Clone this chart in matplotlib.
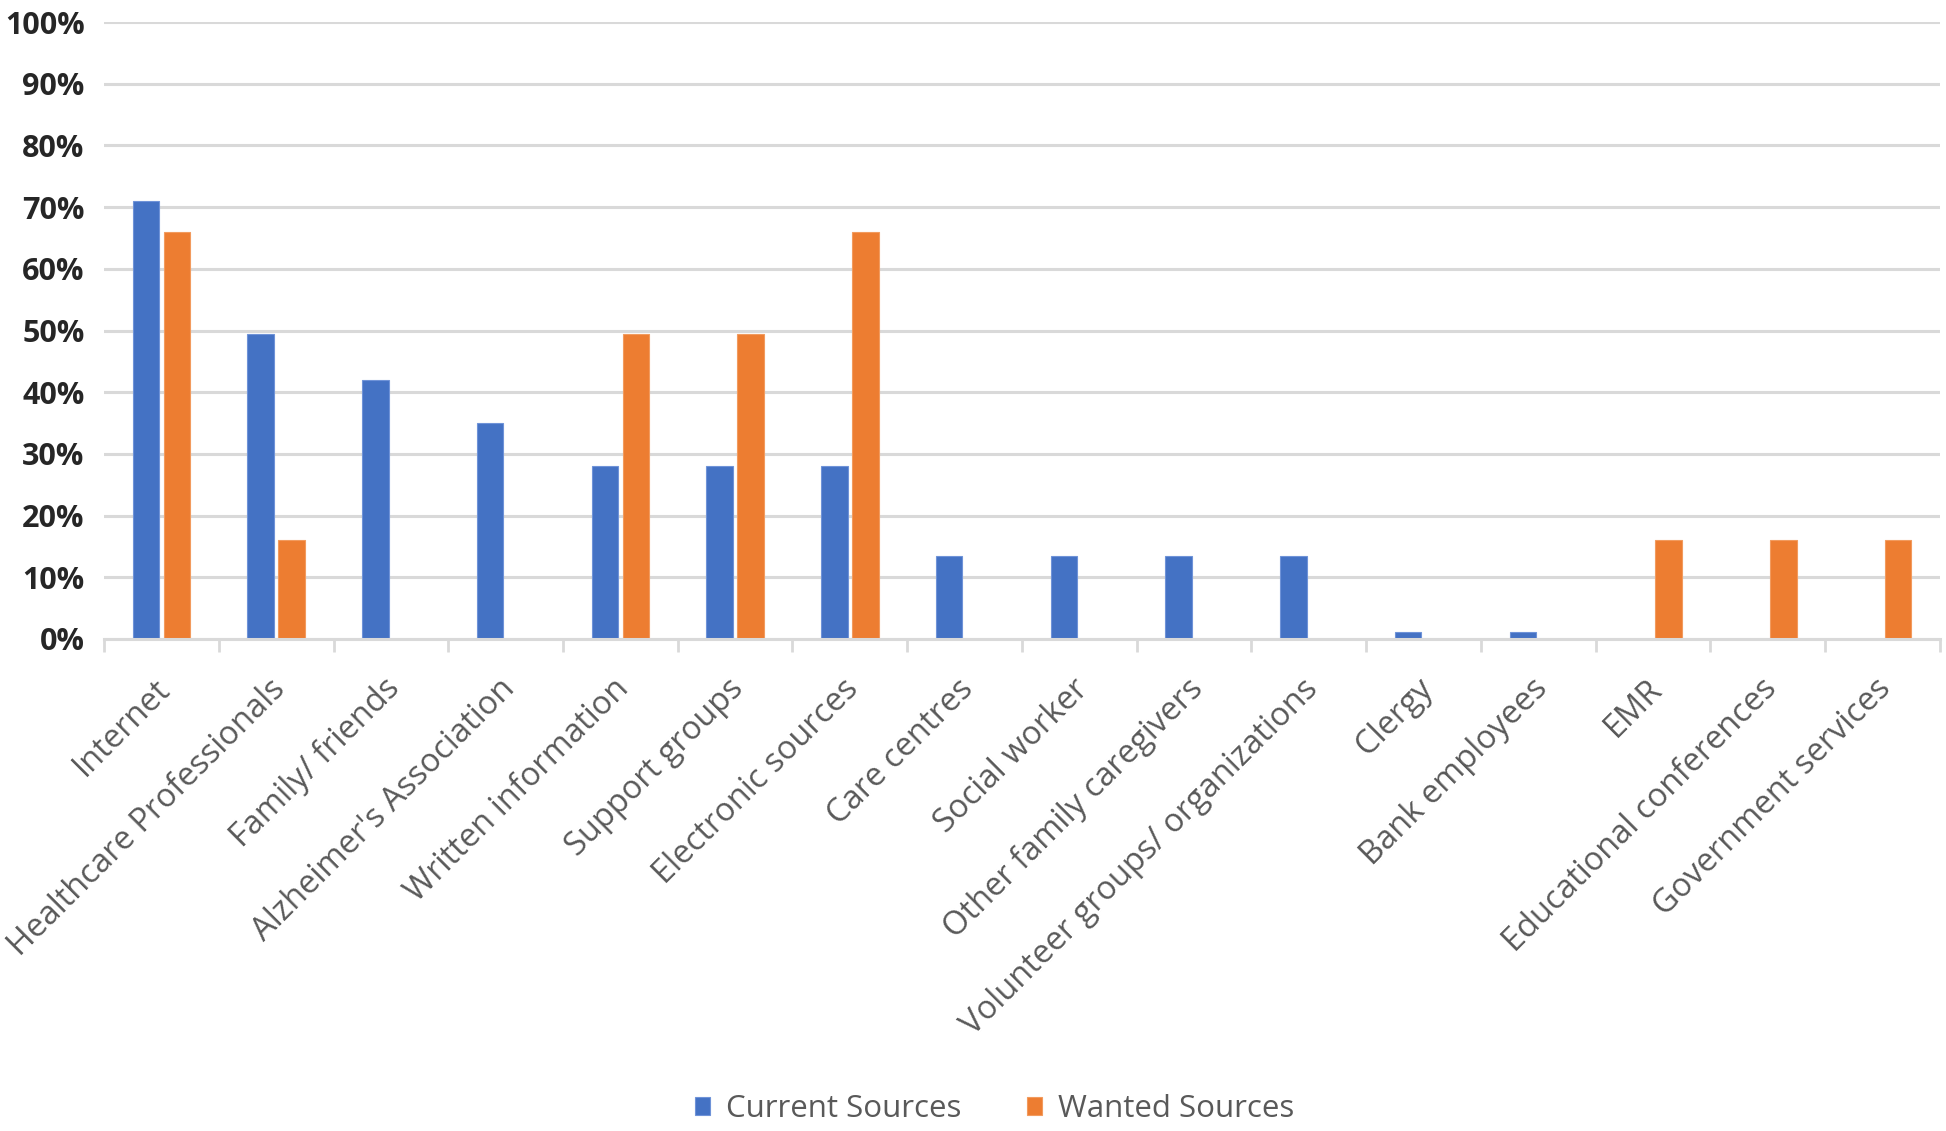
import matplotlib
matplotlib.use("Agg")
import matplotlib.pyplot as plt
import matplotlib.transforms as mtransforms
import numpy as np
from matplotlib.ticker import FuncFormatter, FixedLocator

categories = ["Internet", "Healthcare Professionals", "Family/ friends", "Alzheimer's Association",
              "Written information", "Support groups", "Electronic sources", "Care centres",
              "Social worker", "Other family caregivers", "Volunteer groups/ organizations",
              "Clergy", "Bank employees", "EMR", "Educational conferences", "Government services"]
current = [0.71, 0.495, 0.42, 0.35, 0.28, 0.28, 0.28, 0.135, 0.135, 0.135, 0.135, 0.012, 0.012, 0, 0, 0]
wanted = [0.66, 0.16, 0, 0, 0.495, 0.495, 0.66, 0, 0, 0, 0, 0, 0, 0.16, 0.16, 0.16]
series_names = ["Current Sources", "Wanted Sources"]
yticks = [0, 0.1, 0.2, 0.3, 0.4, 0.5, 0.6, 0.7, 0.8, 0.9, 1.0]

BLUE = "#4472C4"
ORANGE = "#ED7D31"
GRID = "#D9D9D9"

plt.rcParams['font.family'] = ['Open Sans', 'DejaVu Sans']

fig = plt.figure(figsize=(19.46, 11.31), dpi=100)
ax = fig.add_axes([104/1946, 1-639/1131, (1940-104)/1946, (639-22)/1131])

x = np.arange(len(categories))
w = 0.23
off = 0.135
ax.bar(x - off, current, width=w, color=BLUE, edgecolor="#6F93D8", linewidth=0.8, label=series_names[0], zorder=3)
ax.bar(x + off, wanted, width=w, color=ORANGE, edgecolor="#F29B5E", linewidth=0.8, label=series_names[1], zorder=3)

ax.set_xlim(-0.5, len(categories) - 0.5)
ax.set_ylim(0, 1.0)
ax.set_yticks(yticks)
ax.yaxis.set_major_formatter(FuncFormatter(lambda v, p: f"{int(round(v*100))}%"))
ax.grid(axis='y', color=GRID, linewidth=2.2, zorder=0)
ax.set_axisbelow(True)

for s in ['top', 'right', 'left']:
    ax.spines[s].set_visible(False)
ax.spines['bottom'].set_color(GRID)
ax.spines['bottom'].set_linewidth(2.2)
ax.spines['bottom'].set_zorder(4)

ax.tick_params(axis='y', length=0, pad=14, labelsize=22, labelcolor="#262626")
for lab in ax.get_yticklabels():
    lab.set_fontweight('bold')

# boundary tick marks
ax.xaxis.set_major_locator(FixedLocator(np.arange(-0.5, len(categories), 1.0)))
ax.xaxis.set_major_formatter(FuncFormatter(lambda v, p: ""))
ax.tick_params(axis='x', which='major', length=9, width=2, color=GRID, direction='out')

# category labels, rotated 45 degrees
offset = mtransforms.ScaledTranslation(4/100, -45/100, fig.dpi_scale_trans)
trans = ax.get_xaxis_transform() + offset
for xi, name in zip(x, categories):
    ax.text(xi, 0, name, transform=trans, rotation=45, rotation_mode='anchor',
            ha='right', va='center', fontsize=23.5, color="#595959")

fig.legend(loc='lower center', bbox_to_anchor=(0.511, 0.006), ncol=2, frameon=False,
           fontsize=22.5, handlelength=0.5, handleheight=0.5, handletextpad=0.5,
           columnspacing=2.1, labelcolor="#595959", borderaxespad=0, borderpad=0)

fig.savefig("out.png", dpi=100, facecolor="white")
